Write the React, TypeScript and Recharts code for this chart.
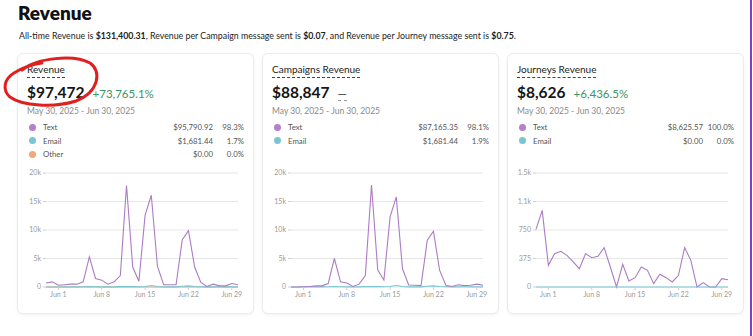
import React from 'react';
import { LineChart, Line, XAxis, YAxis, CartesianGrid } from 'recharts';

const days = [
  'May 30', 'May 31', 'Jun 1', 'Jun 2', 'Jun 3', 'Jun 4', 'Jun 5', 'Jun 6',
  'Jun 7', 'Jun 8', 'Jun 9', 'Jun 10', 'Jun 11', 'Jun 12', 'Jun 13', 'Jun 14',
  'Jun 15', 'Jun 16', 'Jun 17', 'Jun 18', 'Jun 19', 'Jun 20', 'Jun 21', 'Jun 22',
  'Jun 23', 'Jun 24', 'Jun 25', 'Jun 26', 'Jun 27', 'Jun 28', 'Jun 29', 'Jun 30',
];

// all revenue
const revenueText = [
  700, 900, 300, 400, 500, 500, 900, 5300, 1500, 1200, 500, 900, 2000, 17800, 3500, 1000,
  12600, 16100, 3600, 400, 400, 400, 8300, 9900, 3500, 800, 100, 500, 200, 200, 600, 400,
];
const revenueEmail = [
  0, 0, 10, 20, 30, 20, 40, 60, 50, 30, 20, 30, 60, 80, 70, 40,
  90, 250, 80, 30, 20, 30, 120, 200, 80, 40, 20, 30, 40, 30, 30, 20,
];
const revenueOther = [
  0, 0, 0, 0, 0, 0, 0, 0, 0, 0, 0, 0, 0, 0, 0, 0,
  0, 0, 0, 0, 0, 0, 0, 0, 0, 0, 0, 0, 0, 0, 0, 0,
];

// campaigns
const campaignsText = [
  0, 0, 50, 100, 200, 200, 600, 5000, 900, 700, 100, 500, 2000, 17900, 3000, 1200,
  12300, 15800, 3200, 350, 300, 250, 8200, 9800, 2900, 300, 100, 400, 250, 300, 500, 300,
];
const campaignsEmail = [
  0, 0, 10, 20, 30, 20, 40, 60, 50, 30, 20, 30, 60, 80, 70, 40,
  90, 250, 80, 30, 20, 30, 120, 200, 80, 40, 20, 30, 40, 30, 30, 20,
];

// journeys
const journeysText = [
  759, 1009, 285, 439, 469, 417, 329, 241, 439, 386, 404, 518, 263, 0, 298, 79,
  123, 263, 219, 44, 167, 123, 66, 154, 518, 351, 0, 57, 0, 0, 110, 96,
];
const journeysEmail = [
  0, 0, 0, 0, 0, 0, 0, 0, 0, 0, 0, 0, 0, 0, 0, 0,
  0, 0, 0, 0, 0, 0, 0, 0, 0, 0, 0, 0, 0, 0, 0, 0,
];

const dateTicks = ['Jun 1', 'Jun 8', 'Jun 15', 'Jun 22', 'Jun 29'];
const bigTicks = [0, 5000, 10000, 15000, 20000];
const smallTicks = [0, 375, 750, 1125, 1500];

const TEXT_COLOR = '#b57fcd';
const EMAIL_COLOR = '#79c6d2';
const OTHER_COLOR = '#f2a67c';
const LINE_PURPLE = '#ad7bc4';
const FONT = 'Lato, "Open Sans", sans-serif';

const fmtTick = (v: number) => {
  if (v === 0) return '0';
  if (v >= 1000) return (v / 1000).toFixed(v % 1000 === 0 ? 0 : 1) + 'k';
  return String(v);
};

type LegendRow = { name: string; color: string; value: string; pct: string };

interface CardProps {
  left: number;
  title: string;
  total: string;
  change?: string;
  legend: LegendRow[];
  data: any[];
  keys: { key: string; color: string }[];
  ticks: number[];
}

const Card = ({ left, title, total, change, legend, data, keys, ticks }: CardProps) => (
  <div
    style={{
      position: 'absolute',
      left,
      top: 53,
      width: 237,
      height: 261,
      background: '#fff',
      border: '1px solid #ececec',
      borderRadius: 6,
      boxShadow: '0 1px 3px rgba(0,0,0,0.06)',
      boxSizing: 'border-box',
    }}
  >
    <div
      style={{
        position: 'absolute',
        left: 9,
        top: 9,
        fontSize: 10,
        lineHeight: '12px',
        color: '#222',
        borderBottom: '1px dashed #444',
        paddingBottom: 2,
      }}
    >
      {title}
    </div>
    <div style={{ position: 'absolute', left: 9, top: 29, display: 'flex', alignItems: 'baseline' }}>
      <span style={{ fontSize: 15.5, fontWeight: 700, color: '#161616', lineHeight: '19px' }}>{total}</span>
      {change ? (
        <span style={{ fontSize: 11.5, color: '#3a9467', marginLeft: 8 }}>{change}</span>
      ) : (
        <span
          style={{
            fontSize: 12,
            color: '#333',
            marginLeft: 8,
            borderBottom: '1px dashed #999',
            lineHeight: '12px',
          }}
        >
          —
        </span>
      )}
    </div>
    <div style={{ position: 'absolute', left: 9, top: 52, fontSize: 8.5, color: '#8a8a8a', lineHeight: '10px' }}>
      May 30, 2025 - Jun 30, 2025
    </div>
    {legend.map((r, i) => (
      <div
        key={r.name}
        style={{
          position: 'absolute',
          left: 9,
          right: 9,
          top: 67 + i * 13.5,
          height: 12,
          display: 'flex',
          alignItems: 'center',
          fontSize: 7.8,
          color: '#555',
        }}
      >
        <span
          style={{
            width: 7,
            height: 7,
            borderRadius: '50%',
            background: r.color,
            display: 'inline-block',
            marginLeft: 2,
          }}
        />
        <span style={{ marginLeft: 7, flex: 1 }}>{r.name}</span>
        <span style={{ width: 70, textAlign: 'right' }}>{r.value}</span>
        <span style={{ width: 31, textAlign: 'right' }}>{r.pct}</span>
      </div>
    ))}
    <div style={{ position: 'absolute', left: 0, top: 111 }}>
      <LineChart width={226} height={145} data={data} margin={{ top: 8, right: 6, bottom: 0, left: 0 }}>
        <CartesianGrid vertical={false} stroke="#e6e6e6" />
        <XAxis
          dataKey="day"
          ticks={dateTicks}
          interval={0}
          axisLine={false}
          tickLine={{ stroke: '#cfcfcf' }}
          tickSize={3}
          tick={{ fontSize: 7, fill: '#9a9a9a', fontFamily: FONT }}
          height={23}
        />
        <YAxis
          ticks={ticks}
          domain={[ticks[0], ticks[ticks.length - 1]]}
          tickFormatter={fmtTick}
          axisLine={false}
          tickLine={{ stroke: '#cfcfcf' }}
          tickSize={3}
          tick={{ fontSize: 7, fill: '#9a9a9a', fontFamily: FONT }}
          width={28}
        />
        {keys.map((k) => (
          <Line
            key={k.key}
            type="linear"
            dataKey={k.key}
            stroke={k.color}
            strokeWidth={1.1}
            dot={false}
            isAnimationActive={false}
          />
        ))}
      </LineChart>
    </div>
  </div>
);

const revenueData = days.map((day, i) => ({
  day,
  other: revenueOther[i],
  email: revenueEmail[i],
  text: revenueText[i],
}));
const campaignsData = days.map((day, i) => ({
  day,
  email: campaignsEmail[i],
  text: campaignsText[i],
}));
const journeysData = days.map((day, i) => ({
  day,
  email: journeysEmail[i],
  text: journeysText[i],
}));

export default function App() {
  return (
    <div
      style={{
        position: 'relative',
        width: 753,
        height: 336,
        background: '#fff',
        fontFamily: FONT,
        overflow: 'hidden',
      }}
    >
      <style>{'body{margin:0}'}</style>
      <div style={{ position: 'absolute', left: 18, top: 2, fontSize: 19, fontWeight: 800, color: '#111', lineHeight: '22px' }}>
        Revenue
      </div>
      <div style={{ position: 'absolute', left: 19, top: 31, fontSize: 8.8, color: '#222', lineHeight: '10px', whiteSpace: 'nowrap' }}>
        All-time Revenue is <b>$131,400.31</b>, Revenue per Campaign message sent is <b>$0.07</b>, and Revenue per
        Journey message sent is <b>$0.75</b>.
      </div>

      <Card
        left={17}
        title="Revenue"
        total="$97,472"
        change="+73,765.1%"
        legend={[
          { name: 'Text', color: TEXT_COLOR, value: '$95,790.92', pct: '98.3%' },
          { name: 'Email', color: EMAIL_COLOR, value: '$1,681.44', pct: '1.7%' },
          { name: 'Other', color: OTHER_COLOR, value: '$0.00', pct: '0.0%' },
        ]}
        data={revenueData}
        keys={[
          { key: 'other', color: OTHER_COLOR },
          { key: 'email', color: EMAIL_COLOR },
          { key: 'text', color: LINE_PURPLE },
        ]}
        ticks={bigTicks}
      />
      <Card
        left={262}
        title="Campaigns Revenue"
        total="$88,847"
        legend={[
          { name: 'Text', color: TEXT_COLOR, value: '$87,165.35', pct: '98.1%' },
          { name: 'Email', color: EMAIL_COLOR, value: '$1,681.44', pct: '1.9%' },
        ]}
        data={campaignsData}
        keys={[
          { key: 'email', color: EMAIL_COLOR },
          { key: 'text', color: LINE_PURPLE },
        ]}
        ticks={bigTicks}
      />
      <Card
        left={507}
        title="Journeys Revenue"
        total="$8,626"
        change="+6,436.5%"
        legend={[
          { name: 'Text', color: TEXT_COLOR, value: '$8,625.57', pct: '100.0%' },
          { name: 'Email', color: EMAIL_COLOR, value: '$0.00', pct: '0.0%' },
        ]}
        data={journeysData}
        keys={[
          { key: 'text', color: LINE_PURPLE },
          { key: 'email', color: EMAIL_COLOR },
        ]}
        ticks={smallTicks}
      />

      {/* right-hand purple edge */}
      <div style={{ position: 'absolute', left: 750, top: 0, width: 2, height: 336, background: '#7d3fc8' }} />

      {/* hand-drawn red circle annotation */}
      <svg width={753} height={336} style={{ position: 'absolute', left: 0, top: 0, pointerEvents: 'none' }}>
        <path
          d="M 22 70 C 36 58, 74 54, 90 63 C 102 71, 99 92, 76 101 C 54 108, 22 106, 10 97 C 2 90, 4 79, 14 73 C 22 68, 34 64, 42 63"
          fill="none"
          stroke="#e0201f"
          strokeWidth={3}
          strokeLinecap="round"
        />
      </svg>
    </div>
  );
}
